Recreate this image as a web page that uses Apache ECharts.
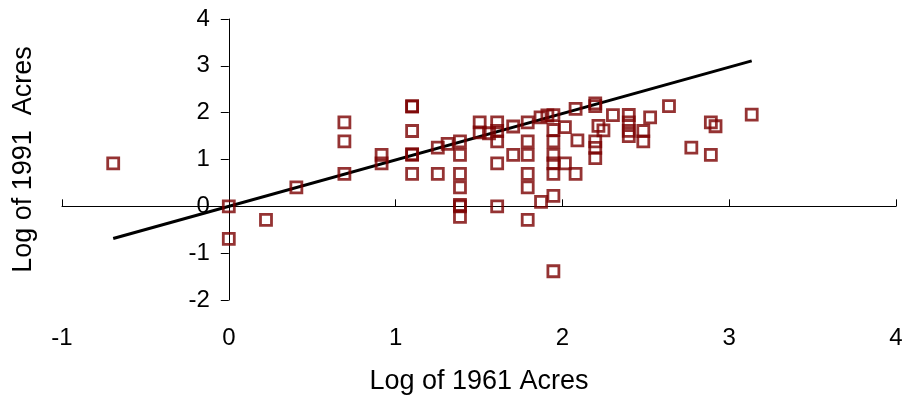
<!DOCTYPE html>
<html>
<head>
<meta charset="utf-8">
<script src="https://cdn.jsdelivr.net/npm/echarts@6/dist/echarts.min.js"></script>
<style>
html,body{margin:0;padding:0;background:#fff;}
#chart{width:907px;height:405px;}
</style>
</head>
<body>
<div id="chart"></div>
<script>
// Log of 1961 acres (x) and log of 1991 acres (y)
const logAcres1961 = [
  -0.693, 0, 0, 0.223, 0.405, 0.693, 0.693, 0.693, 0.916, 0.916,
  1.099, 1.099, 1.099, 1.099, 1.099, 1.099, 1.253, 1.253, 1.312,
  1.386, 1.386, 1.386, 1.386, 1.386, 1.386, 1.386,
  1.504, 1.504, 1.560, 1.609, 1.609, 1.609, 1.609, 1.609,
  1.705, 1.705, 1.792, 1.792, 1.792, 1.792, 1.792, 1.792,
  1.869, 1.872, 1.910, 1.946, 1.946, 1.946, 1.946, 1.946, 1.946, 1.946, 1.946,
  2.015, 2.015, 2.079, 2.079, 2.090, 2.197, 2.197, 2.197, 2.197, 2.197,
  2.216, 2.246, 2.303, 2.398, 2.398, 2.398, 2.398, 2.485, 2.485, 2.526,
  2.639, 2.773, 2.890, 2.918, 2.890, 3.135
];
const logAcres1991 = [
  0.916, 0, -0.693, -0.288, 0.405, 1.792, 1.386, 0.693, 1.099, 0.916,
  2.140, 2.128, 1.609, 1.099, 1.115, 0.693, 1.253, 0.693, 1.335,
  1.386, 1.099, 0.693, 0.405, 0.030, 0, -0.223,
  1.792, 1.580, 1.560, 1.792, 1.609, 1.386, 0.916, 0,
  1.705, 1.099, 1.792, 1.386, 1.099, 0.693, 0.405, -0.288,
  1.900, 0.095, 1.940, 1.946, 1.630, 1.386, 1.099, 0.916, 0.693, 0.223, -1.386,
  1.690, 0.916, 2.079, 0.693, 1.410, 2.197, 2.140, 1.386, 1.250, 1.030,
  1.720, 1.620, 1.946, 1.950, 1.790, 1.610, 1.500, 1.609, 1.386, 1.900,
  2.140, 1.253, 1.792, 1.710, 1.099, 1.960
];
// Fitted line end points
const fitLineX = [-0.693, 3.135];
const fitLineY = [-0.687, 3.105];
const xTicks = [-1, 0, 1, 2, 3, 4];
const yTicks = [-2, -1, 0, 1, 2, 3, 4];

const scatterData = logAcres1961.map((x, i) => [x, logAcres1991[i]]);
const lineData = fitLineX.map((x, i) => [x, fitLineY[i]]);

const GRID_LEFT = 62, GRID_RIGHT = 11;
const plotWidth = 907 - GRID_LEFT - GRID_RIGHT;
// y axis sits where x = 0
const yAxisOffset = -plotWidth * (0 - xTicks[0]) / (xTicks[xTicks.length - 1] - xTicks[0]);

const chart = echarts.init(document.getElementById('chart'));
const font = 'Liberation Sans, Arial, sans-serif';
chart.setOption({
  animation: false,
  backgroundColor: '#ffffff',
  grid: { left: GRID_LEFT, right: GRID_RIGHT, top: 19, bottom: 105, containLabel: false, outerBoundsMode: 'none' },
  xAxis: [
    {
      type: 'value',
      min: xTicks[0], max: xTicks[xTicks.length - 1], interval: 1,
      position: 'bottom',
      axisLine: { show: false, onZero: false },
      axisTick: { show: false },
      splitLine: { show: false },
      axisLabel: { color: '#000', fontSize: 24, fontFamily: font, margin: 26 },
      name: 'Log of 1961 Acres',
      nameLocation: 'middle',
      nameGap: 68,
      nameTextStyle: { color: '#000', fontSize: 27, fontFamily: font }
    },
    {
      type: 'value',
      min: xTicks[0], max: xTicks[xTicks.length - 1], interval: 1,
      position: 'top',
      axisLine: { show: true, onZero: true, onZeroAxisIndex: 0, lineStyle: { color: '#000', width: 1 } },
      axisTick: { show: true, inside: false, length: 7, lineStyle: { color: '#000', width: 1 } },
      axisLabel: { show: false },
      splitLine: { show: false }
    }
  ],
  yAxis: {
    type: 'value',
    position: 'left',
    offset: yAxisOffset,
    min: yTicks[0], max: yTicks[yTicks.length - 1], interval: 1,
    axisLine: { show: true, onZero: false, lineStyle: { color: '#000', width: 1 } },
    axisTick: { show: true, length: 8, lineStyle: { color: '#000', width: 1 } },
    splitLine: { show: false },
    axisLabel: { color: '#000', fontSize: 24, fontFamily: font, margin: 19 },
    name: 'Log of 1991  Acres',
    nameLocation: 'middle',
    nameGap: 192,
    nameTextStyle: { color: '#000', fontSize: 27, fontFamily: font }
  },
  series: [
    {
      type: 'line',
      xAxisIndex: 0,
      data: lineData,
      symbol: 'none',
      lineStyle: { color: '#000', width: 3 },
      z: 3
    },
    {
      type: 'scatter',
      xAxisIndex: 0,
      data: scatterData,
      symbol: 'rect',
      symbolSize: 11,
      itemStyle: { color: 'rgba(0,0,0,0)', borderColor: '#7a0000', borderWidth: 2.8 },
      z: 4
    }
  ]
});
</script>
</body>
</html>
